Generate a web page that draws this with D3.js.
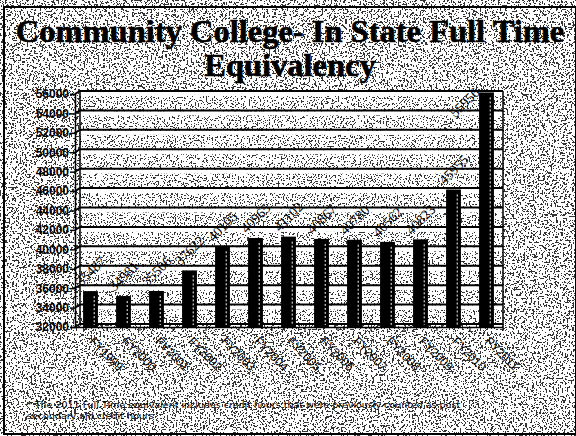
<!DOCTYPE html>
<html>
<head>
<meta charset="utf-8">
<script src="https://cdn.jsdelivr.net/npm/d3@7"></script>
<style>
  html, body { margin: 0; padding: 0; background: #fff; }
  svg { display: block; }
</style>
</head>
<body>
<svg id="chart" width="576" height="436"></svg>
<script>
// FTE per fiscal year
const categories = ["FY1999", "FY2000", "FY2001", "FY2002", "FY2003", "FY2004", "FY2005",
                    "FY2006", "FY2007", "FY2008", "FY2009", "FY2010", "FY2011"];
const fteValues = [35487, 34981, 35506, 37622, 40105, 40965, 41102,
                   40867, 40780, 40562, 40823, 45955, 55956];
const yTickValues = [32000, 34000, 36000, 38000, 40000, 42000, 44000,
                     46000, 48000, 50000, 52000, 54000, 56000];
const titleLines = ["Community College- In State Full Time", "Equivalency"];
const footnoteLines = ["* The 2011 Full Time equivalent includes credit hours that were previously counted as post",
                       "secondary aid credit hours"];

const width = 576, height = 436;
const svg = d3.select("#chart");

// speckle filters to mimic the scanned page
const defs = svg.append("defs");
const speckle = (id, cut, freq, seed) => {
    const n = 50;
    const table = d3.range(n).map(i => (i / n >= cut ? 1 : 0)).join(" ");
    const f = defs.append("filter").attr("id", id)
        .attr("x", 0).attr("y", 0).attr("width", "100%").attr("height", "100%")
        .attr("color-interpolation-filters", "sRGB");
    f.append("feTurbulence").attr("type", "fractalNoise")
        .attr("baseFrequency", freq).attr("numOctaves", 2).attr("seed", seed);
    f.append("feColorMatrix").attr("type", "matrix")
        .attr("values", "0 0 0 0 0.2  0 0 0 0 0.2  0 0 0 0 0.2  1 0 0 0 0");
    f.append("feComponentTransfer").append("feFuncA")
        .attr("type", "discrete").attr("tableValues", table);
};
speckle("speckOuter", 0.57, 0.55, 4);
speckle("speckWall", 0.6, 0.65, 9);

svg.append("rect").attr("width", width).attr("height", height).attr("fill", "#fff");
svg.append("rect").attr("width", width).attr("height", height).attr("filter", "url(#speckOuter)");

const x = d3.scaleBand()
    .domain(categories)
    .range([74, 503])
    .paddingInner(0.55)
    .paddingOuter(0.275);

const y = d3.scaleLinear()
    .domain([32000, 56000])
    .range([327, 94]);

const depth = 3;   // small 3D shift of the back wall
const wallLeft = 80, wallRight = x.range()[1];

// back wall
svg.append("rect")
    .attr("x", wallLeft).attr("y", y(56000) - depth)
    .attr("width", wallRight - wallLeft).attr("height", y(32000) - y(56000))
    .attr("fill", "#fff");
svg.append("rect")
    .attr("x", wallLeft).attr("y", y(56000) - depth)
    .attr("width", wallRight - wallLeft).attr("height", y(32000) - y(56000))
    .attr("filter", "url(#speckWall)");

// white band under each gridline
svg.selectAll(".band")
    .data(yTickValues.slice(1))
    .enter()
    .append("rect")
    .attr("class", "band")
    .attr("x", wallLeft).attr("y", d => y(d) - depth + 1)
    .attr("width", wallRight - wallLeft).attr("height", 4)
    .attr("fill", "#fff");

// gridlines, with the short diagonal on the left wall
svg.selectAll(".grid")
    .data(yTickValues)
    .enter()
    .append("path")
    .attr("class", "grid")
    .attr("d", d => `M75,${y(d)}L${wallLeft},${y(d) - depth}L${wallRight},${y(d) - depth}`)
    .attr("fill", "none")
    .attr("stroke", "#000")
    .attr("stroke-width", 2);

svg.append("line")
    .attr("x1", wallLeft).attr("x2", wallLeft)
    .attr("y1", y(56000) - depth).attr("y2", y(32000) - depth)
    .attr("stroke", "#000").attr("stroke-width", 1.5);
svg.append("line")
    .attr("x1", wallRight).attr("x2", wallRight)
    .attr("y1", y(56000) - depth).attr("y2", y(32000))
    .attr("stroke", "#000").attr("stroke-width", 1.5);

// bars
svg.selectAll(".bar")
    .data(fteValues)
    .enter()
    .append("rect")
    .attr("class", "bar")
    .attr("x", (d, i) => x(categories[i]))
    .attr("y", d => y(d) - 2)
    .attr("width", x.bandwidth())
    .attr("height", d => y(32000) - y(d) + 2)
    .attr("fill", "#000");

svg.selectAll(".bar-shine")
    .data(fteValues)
    .enter()
    .append("line")
    .attr("class", "bar-shine")
    .attr("x1", (d, i) => x(categories[i]) + x.bandwidth() * 0.75)
    .attr("x2", (d, i) => x(categories[i]) + x.bandwidth() * 0.75)
    .attr("y1", d => y(d) + 3)
    .attr("y2", y(32000) - 2)
    .attr("stroke", "#fff")
    .attr("stroke-width", 1)
    .attr("stroke-dasharray", "2,2");

// value labels, rotated above the bars; a label with no room above
// the plot top is tucked in beside its bar, as the original does
const labelPos = (d, i) => {
    const cx = x(categories[i]) + x.bandwidth() / 2;
    const cy = y(d) - 22;
    if (cy - 14 < y(56000) - depth - 10) return [cx - 22, y(d) + 8];
    return [cx, cy];
};
svg.selectAll(".bar-label")
    .data(fteValues)
    .enter()
    .append("text")
    .attr("class", "bar-label")
    .attr("transform", (d, i) => `translate(${labelPos(d, i)}) rotate(-45)`)
    .attr("text-anchor", "middle")
    .attr("dy", "0.35em")
    .style("font-family", "Liberation Serif, serif")
    .style("font-size", "14px")
    .attr("fill", "#000")
    .text(d => d);

// y axis
const yAxis = svg.append("g")
    .attr("transform", "translate(75,0)")
    .call(d3.axisLeft(y).tickValues(yTickValues).tickSize(5).tickPadding(1).tickFormat(d3.format("d")));
yAxis.select(".domain").attr("stroke", "#000").attr("stroke-width", 1.5);
yAxis.selectAll("line").attr("stroke", "#000").attr("stroke-width", 1.5);
yAxis.selectAll("text")
    .attr("fill", "#000")
    .style("font-family", "Liberation Sans, Arial, sans-serif")
    .style("font-size", "12px")
    .style("font-weight", "bold");

// x axis (front edge of the floor)
const xAxis = svg.append("g")
    .attr("transform", `translate(0, ${y(32000)})`)
    .call(d3.axisBottom(x).tickSize(0).tickSizeOuter(0).tickPadding(0));
xAxis.select(".domain").attr("stroke", "#000").attr("stroke-width", 1.5);
xAxis.selectAll("text")
    .attr("fill", "#000")
    .attr("text-anchor", "start")
    .attr("transform", "translate(1, 12) rotate(45)")
    .attr("dy", "0.35em")
    .attr("y", 0)
    .style("font-family", "Liberation Sans, Arial, sans-serif")
    .style("font-size", "12px");

svg.selectAll(".xtick")
    .data(categories)
    .enter()
    .append("line")
    .attr("class", "xtick")
    .attr("x1", d => x(d) + x.bandwidth() / 2 + x.step() / 2)
    .attr("x2", d => x(d) + x.bandwidth() / 2 + x.step() / 2)
    .attr("y1", y(32000))
    .attr("y2", y(32000) + 4)
    .attr("stroke", "#000");

// title
svg.selectAll(".title")
    .data(titleLines)
    .enter()
    .append("text")
    .attr("class", "title")
    .attr("x", 290)
    .attr("y", (d, i) => 42 + i * 34)
    .attr("text-anchor", "middle")
    .style("font-family", "Liberation Serif, 'Times New Roman', serif")
    .style("font-size", "32.5px")
    .style("font-weight", "bold")
    .attr("fill", "#000")
    .attr("stroke", "#000")
    .attr("stroke-width", 0.6)
    .text(d => d);

// footnote
svg.selectAll(".foot")
    .data(footnoteLines)
    .enter()
    .append("text")
    .attr("class", "foot")
    .attr("x", 27)
    .attr("y", (d, i) => 408 + i * 10.5)
    .style("font-family", "DejaVu Sans, sans-serif")
    .style("font-size", "9.5px")
    .attr("fill", "#000")
    .text(d => d);

// frame
svg.append("rect")
    .attr("x", 4).attr("y", 7)
    .attr("width", 572).attr("height", 427)
    .attr("fill", "none")
    .attr("stroke", "#000")
    .attr("stroke-width", 2);
</script>
</body>
</html>
